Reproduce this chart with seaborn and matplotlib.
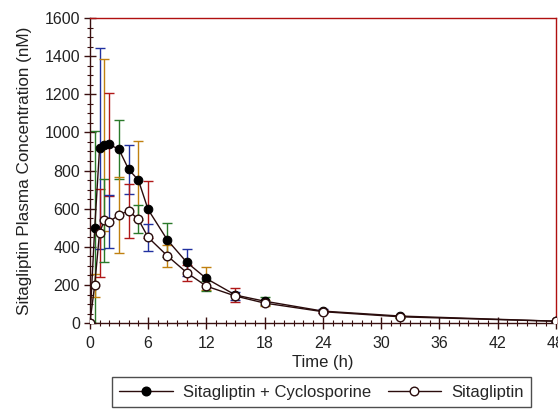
import matplotlib
matplotlib.use("Agg")
import matplotlib.pyplot as plt
from matplotlib.ticker import MultipleLocator
from matplotlib.lines import Line2D
import seaborn as sns
import pandas as pd
import numpy as np

time_h = [0, 0.5, 1, 1.5, 2, 3, 4, 5, 6, 8, 10, 12, 15, 18, 24, 32, 48]
combo_mean = [0, 497, 916, 934, 937, 911, 806, 750, 596, 435, 318, 234, 147, 115, 63, 37, 10]
combo_sd = [0, 510, 525, 450, 271, 154, 128, 207, 151, 88, 69, 61, 35, 20, 10, 8, 3]
sita_mean = [0, 199, 474, 540, 532, 567, 589, 544, 450, 352, 264, 194, 142, 105, 60, 33, 10]
sita_sd = [0, 60, 231, 218, 140, 198, 141, 73, 71, 57, 42, 25, 20, 15, 8, 6, 3]
labels = ["Sitagliptin + Cyclosporine", "Sitagliptin"]

sns.set_theme(style="white")
plt.rcParams['font.family'] = ['Liberation Sans', 'DejaVu Sans']

fig = plt.figure(figsize=(5.58, 4.09), dpi=100)
ax = fig.add_axes([0.161, 0.21, 0.835, 0.746])

df = pd.DataFrame({
    "time": time_h * 2,
    "conc": combo_mean + sita_mean,
    "group": [labels[0]] * len(time_h) + [labels[1]] * len(time_h),
})

line_col = "#2a0c0c"
err_colors = ["#b01818", "#2a7a2a", "#2030a0", "#c08010"]

# error bars
for i, t in enumerate(time_h):
    c = err_colors[i % len(err_colors)]
    if combo_sd[i] > 0:
        ax.errorbar([t], [combo_mean[i]], yerr=[[min(combo_sd[i], combo_mean[i])], [combo_sd[i]]],
                    fmt="none", ecolor=c, elinewidth=1.0, capsize=3.5, capthick=1.0, zorder=2)
    if sita_sd[i] > 0:
        ax.errorbar([t], [sita_mean[i]], yerr=[[sita_sd[i]], [sita_sd[i]]],
                    fmt="none", ecolor=err_colors[(i + 2) % len(err_colors)], elinewidth=1.0,
                    capsize=3.5, capthick=1.0, zorder=2)

sns.lineplot(data=df, x="time", y="conc", hue="group", style="group",
             palette={labels[0]: line_col, labels[1]: line_col},
             markers={labels[0]: "o", labels[1]: "o"}, dashes=False,
             ax=ax, legend=False, linewidth=1.0, zorder=3)

lines = ax.get_lines()[-2:]
lines[0].set_markerfacecolor("black")
lines[0].set_markeredgecolor("black")
lines[0].set_markersize(6.2)
lines[1].set_markerfacecolor("white")
lines[1].set_markeredgecolor(line_col)
lines[1].set_markersize(6.2)
lines[1].set_markeredgewidth(1.0)

ax.set_xlim(0, 48)
ax.set_ylim(0, 1600)
ax.xaxis.set_major_locator(MultipleLocator(6))
ax.xaxis.set_minor_locator(MultipleLocator(1))
ax.yaxis.set_major_locator(MultipleLocator(200))
ax.yaxis.set_minor_locator(MultipleLocator(50))
ax.tick_params(axis="both", which="major", direction="inout", length=8, width=1,
               labelsize=11.5, colors="#3a1010", labelcolor="#222222", pad=3)
ax.tick_params(axis="x", which="major", pad=5)
ax.tick_params(axis="both", which="minor", direction="inout", length=4, width=0.8,
               colors="#3a1010")
ax.tick_params(left=True, bottom=True, which="both")

ax.set_xlabel("Time (h)", fontsize=12, color="#222222", labelpad=3)
ax.set_ylabel("Sitagliptin Plasma Concentration (nM)", fontsize=12.3, color="#222222", labelpad=9)

for s in ["left", "bottom"]:
    ax.spines[s].set_color("#3a1010")
    ax.spines[s].set_linewidth(1.0)
for s in ["top", "right"]:
    ax.spines[s].set_color("#b01010")
    ax.spines[s].set_linewidth(1.0)
    ax.spines[s].set_visible(True)

handles = [
    Line2D([], [], color=line_col, marker="o", markerfacecolor="black", markeredgecolor="black",
           markersize=6.2, linewidth=1.0),
    Line2D([], [], color=line_col, marker="o", markerfacecolor="white", markeredgecolor=line_col,
           markersize=6.2, linewidth=1.0),
]
leg = fig.legend(handles, labels, loc="lower center", bbox_to_anchor=(0.576, -0.016), ncol=2,
                 frameon=True, fancybox=False, edgecolor="#222222", fontsize=12,
                 handlelength=3.2, columnspacing=1.0, borderpad=0.45, handletextpad=0.6)
leg.get_frame().set_linewidth(1.0)

fig.savefig("out.png", dpi=100, facecolor="white")
